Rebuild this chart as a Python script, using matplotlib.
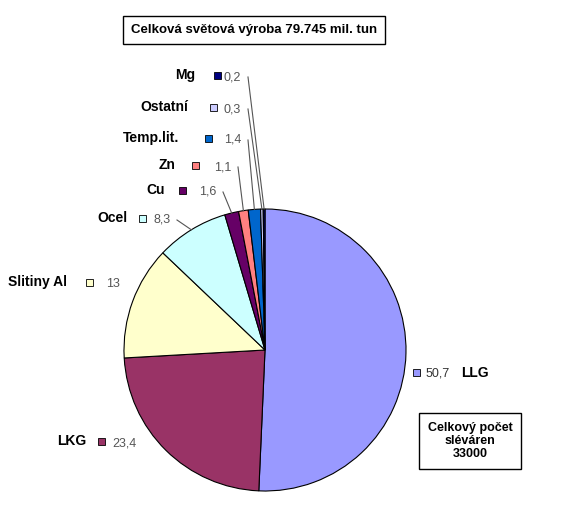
import numpy as np
import matplotlib.pyplot as plt
from matplotlib.patches import Rectangle

plt.rcParams['font.family'] = ['Liberation Sans', 'DejaVu Sans']

labels = ['LLG', 'LKG', 'Slitiny Al', 'Ocel', 'Cu', 'Zn', 'Temp.lit.', 'Ostatní', 'Mg']
values = [50.7, 23.4, 13, 8.3, 1.6, 1.1, 1.4, 0.3, 0.2]
value_text = ['50,7', '23,4', '13', '8,3', '1,6', '1,1', '1,4', '0,3', '0,2']
colors = ['#9999FF', '#993366', '#FFFFCC', '#CCFFFF', '#660066', '#FF8080', '#0066CC', '#CCCCFF', '#000080']

W, H = 563, 505
fig = plt.figure(figsize=(W / 100, H / 100), dpi=100)
cx, cy, r = 265, 350, 141
ax = fig.add_axes([(cx - r) / W, 1 - (cy + r) / H, 2 * r / W, 2 * r / H])
ax.pie(values, colors=colors, startangle=90, counterclock=False, radius=1,
       wedgeprops=dict(edgecolor='black', linewidth=0.8))
ax.set_xlim(-1, 1)
ax.set_ylim(-1, 1)
ax.set_aspect('equal')

# overlay in pixel coords (y down)
ov = fig.add_axes([0, 0, 1, 1], zorder=5)
ov.set_xlim(0, W)
ov.set_ylim(H, 0)
ov.axis('off')

# name x, name y, square x, value x
layout = {
    'Mg': (175, 75, 214, 224),
    'Ostatní': (140, 107, 210, 224),
    'Temp.lit.': (123, 138, 205, 224),
    'Zn': (159, 165, 192, 214),
    'Cu': (146, 190, 179, 199),
    'Ocel': (97, 218, 139, 153),
    'Slitiny Al': (8, 282, 86, 106),
    'LKG': (57, 441, 98, 112),
}
total = sum(values)
cum = 0
for lab, v, vt, c in zip(labels, values, value_text, colors):
    mid = 90 - 360 * (cum + v / 2) / total
    cum += v
    ex = cx + r * np.cos(np.radians(mid))
    ey = cy - r * np.sin(np.radians(mid))
    if lab == 'LLG':
        ov.add_patch(Rectangle((413, 369), 7, 7, facecolor=c, edgecolor='black', lw=0.6))
        ov.text(426, 373, vt, fontsize=9, color='#333333', va='center')
        ov.text(461, 373, lab, fontsize=10, fontweight='bold', va='center')
        continue
    nx, ny, sx, vx = layout[lab]
    ov.text(nx, ny, lab, fontsize=10, fontweight='bold', va='center')
    ov.add_patch(Rectangle((sx, ny - 3), 7, 7, facecolor=c, edgecolor='black', lw=0.6))
    ov.text(vx, ny + 2, vt, fontsize=9, color='#555555', va='center')
    if v < 10:
        tx = vx + 7 * len(vt) + 3
        ov.plot([tx, ex], [ny + 2, ey], color='#555555', lw=0.8)

ov.text(254, 30, 'Celková světová výroba 79.745 mil. tun', fontsize=9.5, fontweight='bold',
        ha='center', va='center',
        bbox=dict(boxstyle='square,pad=0.6', facecolor='white', edgecolor='black', lw=1))
ov.text(470, 441, 'Celkový počet\nsléváren\n33000', fontsize=9, fontweight='bold',
        ha='center', va='center', linespacing=1.1,
        bbox=dict(boxstyle='square,pad=0.7', facecolor='white', edgecolor='black', lw=1))

fig.savefig('out.png', dpi=100)
